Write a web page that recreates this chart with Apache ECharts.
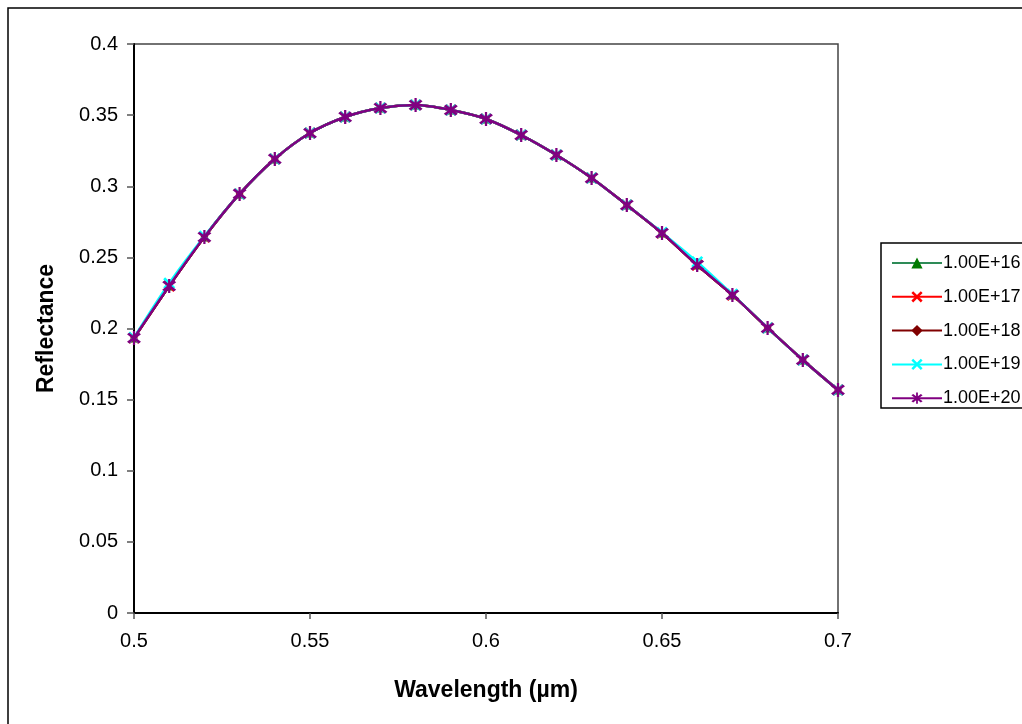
<!DOCTYPE html>
<html>
<head>
<meta charset="utf-8">
<script src="https://cdn.jsdelivr.net/npm/echarts@6/dist/echarts.min.js"></script>
<style>
  html, body { margin: 0; padding: 0; background: #fff; }
  #draw { width: 1022px; height: 724px; }
</style>
</head>
<body>
<div id="draw"></div>
<script>
// wavelength (µm) and reflectance
var wavelength = [0.50, 0.51, 0.52, 0.53, 0.54, 0.55, 0.56, 0.57, 0.58, 0.59, 0.60,
                  0.61, 0.62, 0.63, 0.64, 0.65, 0.66, 0.67, 0.68, 0.69, 0.70];

var r16 = [0.1933, 0.2299, 0.2643, 0.2946, 0.3192, 0.3374, 0.3487, 0.3550, 0.3571, 0.3536, 0.3473,
           0.3360, 0.3220, 0.3058, 0.2868, 0.2671, 0.2446, 0.2236, 0.2004, 0.1779, 0.1568];
var r17 = [0.1933, 0.2299, 0.2643, 0.2946, 0.3192, 0.3374, 0.3487, 0.3550, 0.3571, 0.3536, 0.3473,
           0.3360, 0.3220, 0.3058, 0.2868, 0.2671, 0.2446, 0.2236, 0.2004, 0.1779, 0.1568];
var r18 = [0.1933, 0.2299, 0.2643, 0.2946, 0.3192, 0.3374, 0.3487, 0.3550, 0.3571, 0.3536, 0.3473,
           0.3360, 0.3220, 0.3058, 0.2868, 0.2671, 0.2446, 0.2236, 0.2004, 0.1779, 0.1568];
var r19 = [0.1936, 0.2318, 0.2648, 0.2946, 0.3192, 0.3374, 0.3487, 0.3550, 0.3571, 0.3536, 0.3473,
           0.3360, 0.3220, 0.3058, 0.2868, 0.2674, 0.2468, 0.2240, 0.2004, 0.1779, 0.1568];
var r20 = [0.1933, 0.2299, 0.2643, 0.2946, 0.3192, 0.3374, 0.3487, 0.3550, 0.3571, 0.3536, 0.3473,
           0.3360, 0.3220, 0.3058, 0.2868, 0.2671, 0.2446, 0.2236, 0.2004, 0.1779, 0.1568];

var names = ['1.00E+16', '1.00E+17', '1.00E+18', '1.00E+19', '1.00E+20'];
var values = [r16, r17, r18, r19, r20];

// marker shapes (filled paths, so arms are drawn as thin bars)
var xMark = 'path://M0,1.6L1.6,0L10,8.4L8.4,10ZM8.4,0L10,1.6L1.6,10L0,8.4Z';
var starMark = 'path://M0,1.6L1.6,0L10,8.4L8.4,10ZM8.4,0L10,1.6L1.6,10L0,8.4ZM4.2,-1.5L5.8,-1.5L5.8,11.5L4.2,11.5Z';
var symbols = [
  { symbol: 'triangle', size: 9, line: '#2e8b57', mark: '#007a00' },
  { symbol: xMark, size: 12, line: '#ff0000', mark: '#ff0000' },
  { symbol: 'diamond', size: 8, line: '#800000', mark: '#800000' },
  { symbol: xMark, size: 12, line: '#00ffff', mark: '#00ffff' },
  { symbol: starMark, size: 14, line: '#800080', mark: '#800080' }
];

function pairs(ys) {
  return wavelength.map(function(x, i) { return [x, ys[i]]; });
}

var series = names.map(function(n, i) {
  var s = symbols[i];
  return {
    name: n,
    type: 'line',
    smooth: 0.3,
    data: pairs(values[i]),
    symbol: s.symbol,
    symbolSize: s.size,
    showAllSymbol: true,
    lineStyle: { color: s.line, width: 2.5 },
    itemStyle: { color: s.mark, borderColor: s.mark, borderWidth: 0 },
    z: 2 + i
  };
});

var myChart = echarts.init(document.getElementById('draw'));

var option = {
  animation: false,
  backgroundColor: '#fff',
  textStyle: { fontFamily: 'Liberation Sans, Arial, sans-serif' },
  graphic: [{
    type: 'rect',
    shape: { x: 8, y: 8, width: 1030, height: 740 },
    style: { fill: null, stroke: '#000', lineWidth: 1.5 },
    silent: true
  }, {
    type: 'rect',
    shape: { x: 881, y: 243, width: 160, height: 165 },
    style: { fill: '#fff', stroke: '#000', lineWidth: 1.5 },
    z: -1,
    silent: true
  }],
  grid: {
    left: 134, right: 184, top: 44, bottom: 111,
    show: true,
    borderColor: '#444',
    borderWidth: 1.5
  },
  legend: {
    orient: 'vertical',
    left: 886,
    top: 249,
    itemWidth: 50,
    itemHeight: 14,
    itemGap: 15.8,
    itemStyle: { borderWidth: 0 },
    textStyle: { fontSize: 18, color: '#000', padding: [0, 0, 0, -4] },
    data: names
  },
  xAxis: {
    type: 'value',
    min: 0.5, max: 0.7, interval: 0.05,
    name: 'Wavelength (µm)',
    nameLocation: 'middle',
    nameGap: 66,
    nameTextStyle: { fontSize: 23, fontWeight: 'bold', color: '#000' },
    axisLine: { show: true, onZero: false, lineStyle: { color: '#000', width: 2 } },
    axisTick: { show: true, inside: false, length: 6, lineStyle: { color: '#555', width: 1.5 } },
    axisLabel: { fontSize: 20, color: '#000', margin: 18 },
    splitLine: { show: false }
  },
  yAxis: {
    type: 'value',
    min: 0, max: 0.4, interval: 0.05,
    name: 'Reflectance',
    nameLocation: 'middle',
    nameGap: 76,
    nameTextStyle: { fontSize: 23, fontWeight: 'bold', color: '#000' },
    axisLine: { show: true, lineStyle: { color: '#000', width: 2 } },
    axisTick: { show: true, inside: false, length: 7, lineStyle: { color: '#555', width: 1.5 } },
    axisLabel: { fontSize: 20, color: '#000', margin: 16 },
    splitLine: { show: false }
  },
  series: series
};

myChart.setOption(option);
</script>
</body>
</html>
